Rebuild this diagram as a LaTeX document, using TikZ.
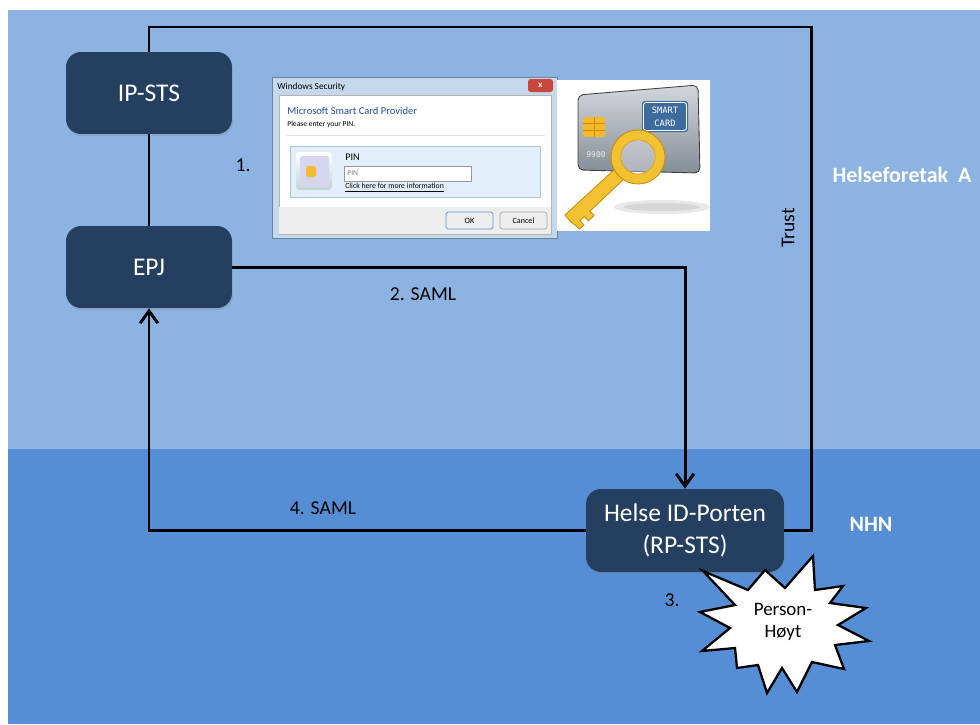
\documentclass[tikz,border=0pt]{standalone}
\usepackage{fontspec}
\setmainfont{Carlito}
\newfontfamily\cardfont{DejaVu Sans Mono}
\usetikzlibrary{arrows.meta, shadows}

\definecolor{skyband}{HTML}{8DB3E2}
\definecolor{seaband}{HTML}{558ED5}
\definecolor{boxnavy}{HTML}{243F60}
\definecolor{dlgframe}{HTML}{C6D8EC}
\definecolor{dlgedge}{HTML}{6F8299}
\definecolor{dlgblue}{HTML}{1F4F9C}
\definecolor{pinpanel}{HTML}{E2EEFA}
\definecolor{pinedge}{HTML}{A9C6E6}
\definecolor{dlgstrip}{HTML}{EEEEEE}
\definecolor{closered}{HTML}{C9463B}
\definecolor{cardtop}{HTML}{D3D7DC}
\definecolor{cardbottom}{HTML}{858D96}
\definecolor{cardblue}{HTML}{3D6B9E}
\definecolor{keygold}{HTML}{F3C233}
\definecolor{keydark}{HTML}{C98E0C}

\tikzset{
  stsbox/.style={fill=boxnavy, rounded corners=0.3cm, minimum width=3.32cm,
    minimum height=1.64cm, text=white, align=center,
    font=\fontsize{14.5}{18}\selectfont,
    drop shadow={opacity=0.25, shadow xshift=0.6pt, shadow yshift=-1.2pt}},
  link/.style={line width=1.7pt},
  flow/.style={link, -{Straight Barb[length=7pt, width=10pt, line width=1.7pt]}},
  steplabel/.style={font=\fontsize{11.2}{13}\selectfont},
  zonelabel/.style={text=white, font=\bfseries\fontsize{12.5}{15}\selectfont},
  dlgtext/.style={anchor=west, inner sep=0pt},
  dlgbutton/.style={fill=dlgstrip, draw=gray!70, rounded corners=1pt, line width=0.4pt},
}

\begin{document}
\begin{tikzpicture}[x=0.02cm, y=-0.02cm]
        \useasboundingbox (0,0) rectangle (980,724);
        \fill[white] (0,0) rectangle (980,724);
        \coordinate (TL) at (8,10);
        \coordinate (ML) at (8,449);
        \coordinate (MR) at (980,449);
        \coordinate (BR) at (980,724);
        \fill[skyband] (TL) rectangle (MR);
        \fill[seaband] (ML) rectangle (BR);

        % smart card login dialog
        \fill[dlgframe] (272,77) rectangle (557,238);
        \draw[dlgedge, line width=0.5pt] (272,77) rectangle (557,238);
        \node[dlgtext, font=\fontsize{5.3}{6}\selectfont] (dlgtitle) at (277,87) {Windows Security};
        \fill[closered, rounded corners=1.5pt] (528,79) rectangle (553,92);
        \node[text=white, font=\bfseries\fontsize{5}{6}\selectfont, inner sep=0pt] (dlgclose) at (540.5,85.5) {x};
        \fill[white] (279,95) rectangle (551,207);
        \draw[gray!60, line width=0.3pt] (279,95) rectangle (551,234);
        \node[dlgtext, text=dlgblue, font=\fontsize{6}{7}\selectfont] (dlghead) at (287,111) {Microsoft Smart Card Provider};
        \node[dlgtext, font=\fontsize{4.3}{5}\selectfont] (dlgask) at (287,124) {Please enter your PIN.};
        \draw[gray!25, line width=0.4pt] (287,135) -- (545,135);
        \fill[pinpanel] (290,146) rectangle (540,197);
        \draw[pinedge, line width=0.4pt] (290,146) rectangle (540,197);
        \shade[top color=white, bottom color=cyan!15!gray!40, rounded corners=2pt] (296,152) rectangle (332,190);
        \fill[white!80!cyan!60!blue!30, rounded corners=1pt] (300,156) rectangle (329,187);
        \fill[keygold!90!orange, rounded corners=1pt] (306,166) rectangle (316,177);
        \node[dlgtext, font=\fontsize{5.8}{7}\selectfont] (pinlabel) at (345,157) {PIN};
        \draw[draw=gray!80, fill=white, line width=0.4pt] (344,166) rectangle (471,181);
        \node[dlgtext, text=gray, font=\fontsize{4.3}{5}\selectfont] (pinfield) at (347,173.5) {PIN};
        \node[dlgtext, font=\fontsize{4.4}{5}\selectfont] (pinhelp) at (345,188) {\underline{Click here for more information}};
        \fill[dlgstrip] (279.3,207) rectangle (550.7,233.7);
        \draw[dlgbutton, draw=cyan!60!blue!70] (446,212) rectangle (493,229);
        \draw[dlgbutton] (500,212) rectangle (547,229);
        \node[font=\fontsize{4.6}{5}\selectfont, inner sep=0pt] (okbtn) at (469.5,220.5) {OK};
        \node[font=\fontsize{4.6}{5}\selectfont, inner sep=0pt] (cancelbtn) at (523.5,220.5) {Cancel};

        % card and key
        \fill[white] (557,80) rectangle (710,231);
        \fill[gray!35, opacity=0.5] (662,207) ellipse (48 and 7);
        \fill[gray!45, opacity=0.5] (662,207) ellipse (38 and 4);
        \shade[top color=cardtop, bottom color=cardbottom, rounded corners=3pt]
        (578,95) -- (698,85) -- (700,173) -- (578,170) -- cycle;
        \draw[gray!50!black, line width=0.5pt, rounded corners=3pt]
        (578,95) -- (698,85) -- (700,173) -- (578,170) -- cycle;
        \fill[cardblue, rounded corners=1.5pt] (642,101) rectangle (688,132);
        \draw[white, line width=0.5pt, rounded corners=1.5pt] (643.5,102.5) rectangle (686.5,130.5);
        \node[text=white, font=\cardfont\fontsize{5}{6}\selectfont, inner sep=0pt] (cardtxt1) at (665,110) {SMART};
        \node[text=white, font=\cardfont\fontsize{5}{6}\selectfont, inner sep=0pt] (cardtxt2) at (665,123) {CARD};
        \fill[keygold!85!orange, rounded corners=1pt] (583,117) rectangle (605,137);
        \draw[keydark, line width=0.4pt] (583,123.5) -- (605,123.5) (583,130.5) -- (605,130.5) (594,117) -- (594,137);
        \node[text=gray!15, font=\cardfont\fontsize{4.5}{5}\selectfont, inner sep=0pt] (cardnum) at (596,155) {9900};
        \fill[keygold, draw=keydark, line width=0.5pt]
        (625,178) -- (616,168) -- (565,215) -- (570,221) -- (575,225)
        -- (579.5,229.1) -- (583.9,225.0) -- (579.8,220.6)
        -- (584.2,216.5) -- (588.3,220.9) -- (594.1,215.5) -- (590,211.1) -- cycle;
        \fill[keygold, draw=keydark, line width=0.5pt, even odd rule]
        (638,157) circle (27) (638,157) circle (17);
        \fill[white, opacity=0.35] (638,157) circle (17);

        % servers
        \node[stsbox] (ipsts) at (149,93) {IP-STS};
        \node[stsbox] (epj) at (149,267) {EPJ};
        \node[stsbox, minimum width=3.96cm, minimum height=1.66cm] (helse) at (685,530.5) {Helse ID-Porten\\(RP-STS)};

        \coordinate (trustR) at (811,27);
        \draw[link] (ipsts) -- (epj);
        \draw[link] (ipsts.north) |- (trustR) |- (helse.east);
        \draw[flow] (epj.east) -| (helse.north);
        \draw[flow] (helse.west) -| (epj.south);

        \node[steplabel] (step1) at (243,165) {1.};
        \node[steplabel] (step2) at (423,294) {2. SAML};
        \node[steplabel] (step3) at (672,600) {3.};
        \node[steplabel] (step4) at (323,508) {4. SAML};
        \node[steplabel, rotate=90] (trust) at (788,228) {Trust};
        \node[zonelabel] (hfa) at (902,175) {Helseforetak~~A};
        \node[zonelabel] (nhn) at (871,524) {NHN};

        % level of assurance
        \draw[fill=white, line width=1.3pt, line join=miter]
        (703,571) -- (748,590) -- (765,570) -- (785,588) -- (813,556) -- (815,590)
        -- (843,586) -- (830,603) -- (866,608) -- (838,625) -- (869,641) -- (835,645)
        -- (844,669) -- (812,662) -- (797,692) -- (782,668) -- (767,693) -- (758,665)
        -- (737,668) -- (735,648) -- (702,651) -- (730,628) -- (700,612) -- (735,605) -- cycle;
        \node[align=center, font=\fontsize{10.8}{13}\selectfont] (burst) at (783,622) {Person-\\Høyt};
    \end{tikzpicture}
\end{document}
